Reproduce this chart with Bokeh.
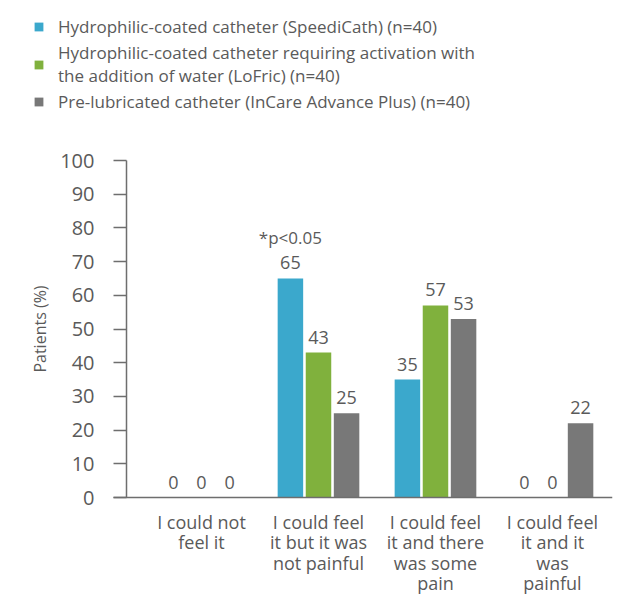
import numpy as np
from bokeh.plotting import figure
from bokeh.core.properties import value
from bokeh.models import (ColumnDataSource, LabelSet, Label, Legend, LegendItem,
                          FixedTicker, Range1d)
from bokeh.embed import file_html
from bokeh.resources import INLINE

# ---------------- data ----------------
categories = [
    "I could not\nfeel it",
    "I could feel\nit but it was\nnot painful",
    "I could feel\nit and there\nwas some\npain",
    "I could feel\nit and it\nwas\npainful",
]
speedicath = [0, 65, 35, 0]
lofric = [0, 43, 57, 0]
incare = [0, 25, 53, 22]
series_names = [
    "Hydrophilic-coated catheter (SpeediCath) (n=40)",
    "Hydrophilic-coated catheter requiring activation with\nthe addition of water (LoFric) (n=40)",
    "Pre-lubricated catheter (InCare Advance Plus) (n=40)",
]
y_ticks = [0, 10, 20, 30, 40, 50, 60, 70, 80, 90, 100]
significance_note = "*p<0.05"
significance_group = 1

# ---------------- style / layout ----------------
FONT = "Open Sans"
TEXT = "#5a5a5a"
AXIS = "#6e6e6e"
colors = ["#3BA8CC", "#80B13D", "#787878"]
offsets = [-0.24, 0.0, 0.24]
bar_w = 0.218
X_START, X_END = -1.718, 3.513      # frame spans the full canvas (legend lives inside it)
AXIS_X0 = -0.752                    # where the baseline starts
Y_AXIS_AT = -0.641                  # where the value axis stands
Y_START, Y_END = -29.97, 147.48

idx = np.arange(len(categories))

p = figure(width=630, height=598,
           x_range=Range1d(X_START, X_END), y_range=Range1d(Y_START, Y_END),
           output_backend="svg", toolbar_location=None,
           min_border_left=0, min_border_right=18,
           min_border_top=0, min_border_bottom=0)
p.outline_line_color = None
p.xgrid.visible = False
p.ygrid.visible = False

renderers = []
for vals, col, off in zip([speedicath, lofric, incare], colors, offsets):
    src = ColumnDataSource(dict(x=(idx + off).tolist(), top=vals, lab=[str(v) for v in vals]))
    r = p.vbar(x="x", top="top", bottom=0, width=bar_w, source=src, fill_color=col, line_color=None)
    renderers.append(r)
    p.add_layout(LabelSet(x="x", y="top", text="lab", source=src, y_offset=9,
                          text_align="center", text_baseline="bottom",
                          text_font=value(FONT), text_font_size=value("18px"),
                          text_color=value(TEXT)))

p.add_layout(Label(x=significance_group + offsets[0], y=speedicath[significance_group],
                   y_offset=29, text=significance_note, text_align="center",
                   text_baseline="bottom", text_font=FONT, text_font_size="17px",
                   text_color=TEXT))

# y axis (fixed inside the frame)
ya = p.yaxis[0]
ya.fixed_location = Y_AXIS_AT
ya.bounds = (0, 100)
ya.ticker = FixedTicker(ticks=y_ticks)
ya.axis_line_color = AXIS
ya.axis_line_width = 1.5
ya.major_tick_in = 0
ya.major_tick_out = 13
ya.major_tick_line_color = AXIS
ya.major_tick_line_width = 1.5
ya.minor_tick_line_color = None
ya.major_label_standoff = 19
ya.major_label_text_font = FONT
ya.major_label_text_font_size = "20px"
ya.major_label_text_color = TEXT
ya.axis_label = "Patients (%)"
ya.axis_label_text_font = FONT
ya.axis_label_text_font_style = "normal"
ya.axis_label_text_font_size = "16px"
ya.axis_label_text_color = TEXT
ya.axis_label_standoff = 6

# x axis (fixed at zero)
xa = p.xaxis[0]
xa.fixed_location = 0
xa.bounds = (AXIS_X0, X_END)
xa.ticker = FixedTicker(ticks=[float(i) for i in idx])
xa.major_label_overrides = {float(i): c for i, c in zip(idx, categories)}
xa.major_tick_line_color = None
xa.minor_tick_line_color = None
xa.axis_line_color = AXIS
xa.axis_line_width = 1.5
xa.major_label_standoff = 6
xa.major_label_text_font = FONT
xa.major_label_text_font_size = "18px"
xa.major_label_text_color = TEXT
xa.major_label_text_line_height = 0.86

legend = Legend(items=[LegendItem(label=n, renderers=[r]) for n, r in zip(series_names, renderers)],
                location=(33, 485), orientation="vertical",
                label_text_font=FONT, label_text_font_size="17px", label_text_color=TEXT,
                glyph_width=11, glyph_height=11, label_standoff=14, spacing=3,
                padding=0, margin=0, border_line_color=None, background_fill_alpha=0)
p.add_layout(legend)

open("out.html", "w").write(file_html(p, INLINE))
